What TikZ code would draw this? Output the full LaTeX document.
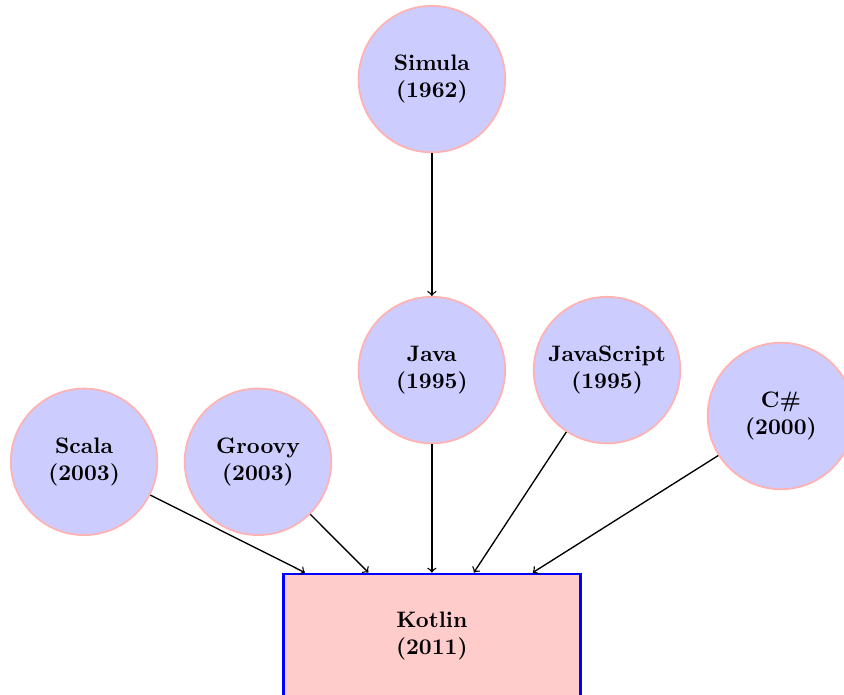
\documentclass[tikz,border=0pt]{standalone}
\usepackage{amsmath}
\usepackage{tikz}
\usetikzlibrary{positioning}

\tikzset{
    lang/.style={circle, draw=red!30, thick, fill=blue!20, minimum size=2.3cm,
        align=center, font=\bfseries},
    kotlinbox/.style={rectangle, draw=blue, very thick, fill=red!20,
        minimum width=4.66cm, minimum height=1.96cm, align=center, font=\bfseries},
    influence/.style={->, semithick}
}

\begin{document}
\begin{tikzpicture}
    % fix the visible area
    \useasboundingbox (-6.78,-5.09) rectangle (6.47,5.81);

    % the languages
    \node[lang] (java) at (0,0) {Java\\(1995)};
    \node[lang, above=2.24cm of java] (simula) {Simula\\(1962)};
    \node[lang] (javascript) at (2.75,0) {JavaScript\\(1995)};
    \node[lang] (csharp) at (5.48,-0.72) {C\#\\(2000)};
    \node[lang] (scala) at (-5.46,-1.44) {Scala\\(2003)};
    \node[lang] (groovy) at (-2.73,-1.44) {Groovy\\(2003)};

    % the one they all lead to (bottom edge runs off the page)
    \node[kotlinbox] (kotlin) at (0,-4.18) {Kotlin\\(2011)};

    % influences
    \draw[influence] (simula) -- (java);
    \foreach \src in {scala,groovy,java,javascript,csharp}
    \draw[influence] (\src) -- (kotlin);
\end{tikzpicture}
\end{document}
